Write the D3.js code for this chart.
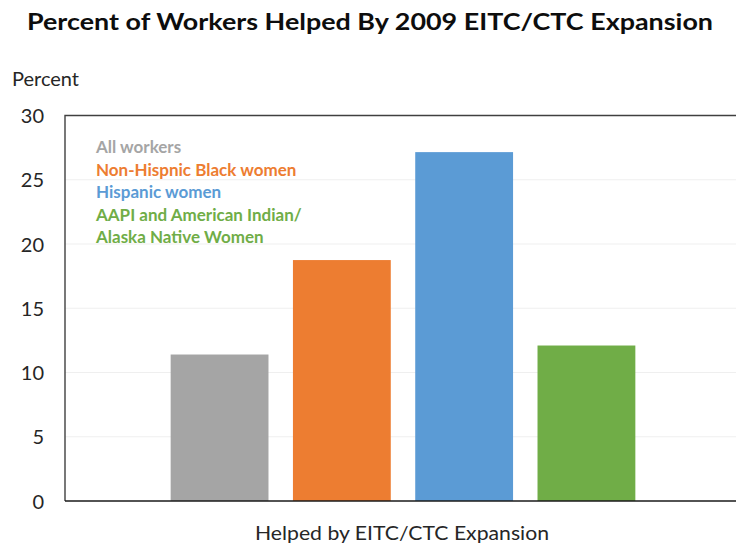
<!DOCTYPE html>
<html>
<head>
<meta charset="utf-8">
<script src="https://cdn.jsdelivr.net/npm/d3@7"></script>
<style>
  html, body { margin: 0; padding: 0; background: #fff; }
  svg { display: block; }
  text { font-family: Lato, "Open Sans", sans-serif; }
</style>
</head>
<body>
<svg id="chart" width="736" height="546"></svg>
<script>
const title = "Percent of Workers Helped By 2009 EITC/CTC Expansion";
const yTitle = "Percent";
const category = "Helped by EITC/CTC Expansion";
const seriesNames = ["All workers", "Non-Hispnic Black women", "Hispanic women", "AAPI and American Indian/ Alaska Native Women"];
const legendLines = [["All workers"], ["Non-Hispnic Black women"], ["Hispanic women"], ["AAPI and American Indian/", "Alaska Native Women"]];
const values = [11.4, 18.75, 27.15, 12.1];
const colors = ["#a5a5a5", "#ed7d31", "#5b9bd5", "#70ad47"];
const yTicks = [0, 5, 10, 15, 20, 25, 30];

const svg = d3.select("#chart");
const plot = { left: 65, right: 741, top: 115.5, bottom: 501 };

const y = d3.scaleLinear().domain([0, 30]).range([plot.bottom, plot.top]);
const xOuter = d3.scaleBand().domain([category]).range([plot.left, plot.right]).paddingOuter(0.191).paddingInner(0);
const x = d3.scaleBand().domain(seriesNames)
  .range([xOuter(category), xOuter(category) + xOuter.bandwidth()])
  .paddingInner(0.2).paddingOuter(0.1);

// gridlines
svg.append("g").selectAll("line").data(yTicks.filter(t => t > 0 && t < 30)).join("line")
  .attr("x1", plot.left).attr("x2", plot.right)
  .attr("y1", d => y(d)).attr("y2", d => y(d))
  .attr("stroke", "#efefef").attr("stroke-width", 1.2);

// bars
svg.append("g").selectAll("rect").data(seriesNames).join("rect")
  .attr("x", d => x(d)).attr("width", x.bandwidth())
  .attr("y", (d, i) => y(values[i]))
  .attr("height", (d, i) => y(0) - y(values[i]))
  .attr("fill", (d, i) => colors[i]);

// plot border (top + left)
svg.append("path")
  .attr("d", `M${plot.left},${plot.bottom} V${plot.top} H${plot.right}`)
  .attr("fill", "none").attr("stroke", "#404040").attr("stroke-width", 1.4);
// baseline
svg.append("line")
  .attr("x1", plot.left).attr("x2", plot.right)
  .attr("y1", plot.bottom).attr("y2", plot.bottom)
  .attr("stroke", "#1a1a1a").attr("stroke-width", 1.5);

// y axis
const yAxis = svg.append("g").attr("transform", `translate(${plot.left - 21},0)`)
  .call(d3.axisLeft(y).tickValues(yTicks).tickSize(0).tickPadding(0));
yAxis.select(".domain").remove();
yAxis.selectAll("text")
  .attr("font-family", "Lato, 'Open Sans', sans-serif")
  .attr("font-size", 20).attr("fill", "#262626").attr("dy", "0.35em");

// axis titles
svg.append("text").attr("x", 12).attr("y", 86)
  .attr("font-size", 20).attr("fill", "#262626").text(yTitle);
svg.append("text").attr("x", xOuter(category) + xOuter.bandwidth() / 2 - 1).attr("y", 540)
  .attr("text-anchor", "middle").attr("font-size", 19.5).attr("fill", "#262626")
  .attr("textLength", 294).attr("lengthAdjust", "spacingAndGlyphs")
  .text(category);

// chart title
svg.append("text").attr("x", 370).attr("y", 30)
  .attr("text-anchor", "middle").attr("font-size", 22).attr("font-weight", "bold")
  .attr("fill", "#0d0d0d")
  .attr("textLength", 686).attr("lengthAdjust", "spacingAndGlyphs")
  .text(title);

// legend text
const legendG = svg.append("g").attr("font-weight", "bold").attr("font-size", 17);
let lineIdx = 0;
const lineH = 22.5;
legendLines.forEach((lines, i) => {
  lines.forEach(l => {
    legendG.append("text").attr("x", 96).attr("y", 153 + lineIdx * lineH)
      .attr("fill", colors[i]).text(l);
    lineIdx++;
  });
});
</script>
</body>
</html>
